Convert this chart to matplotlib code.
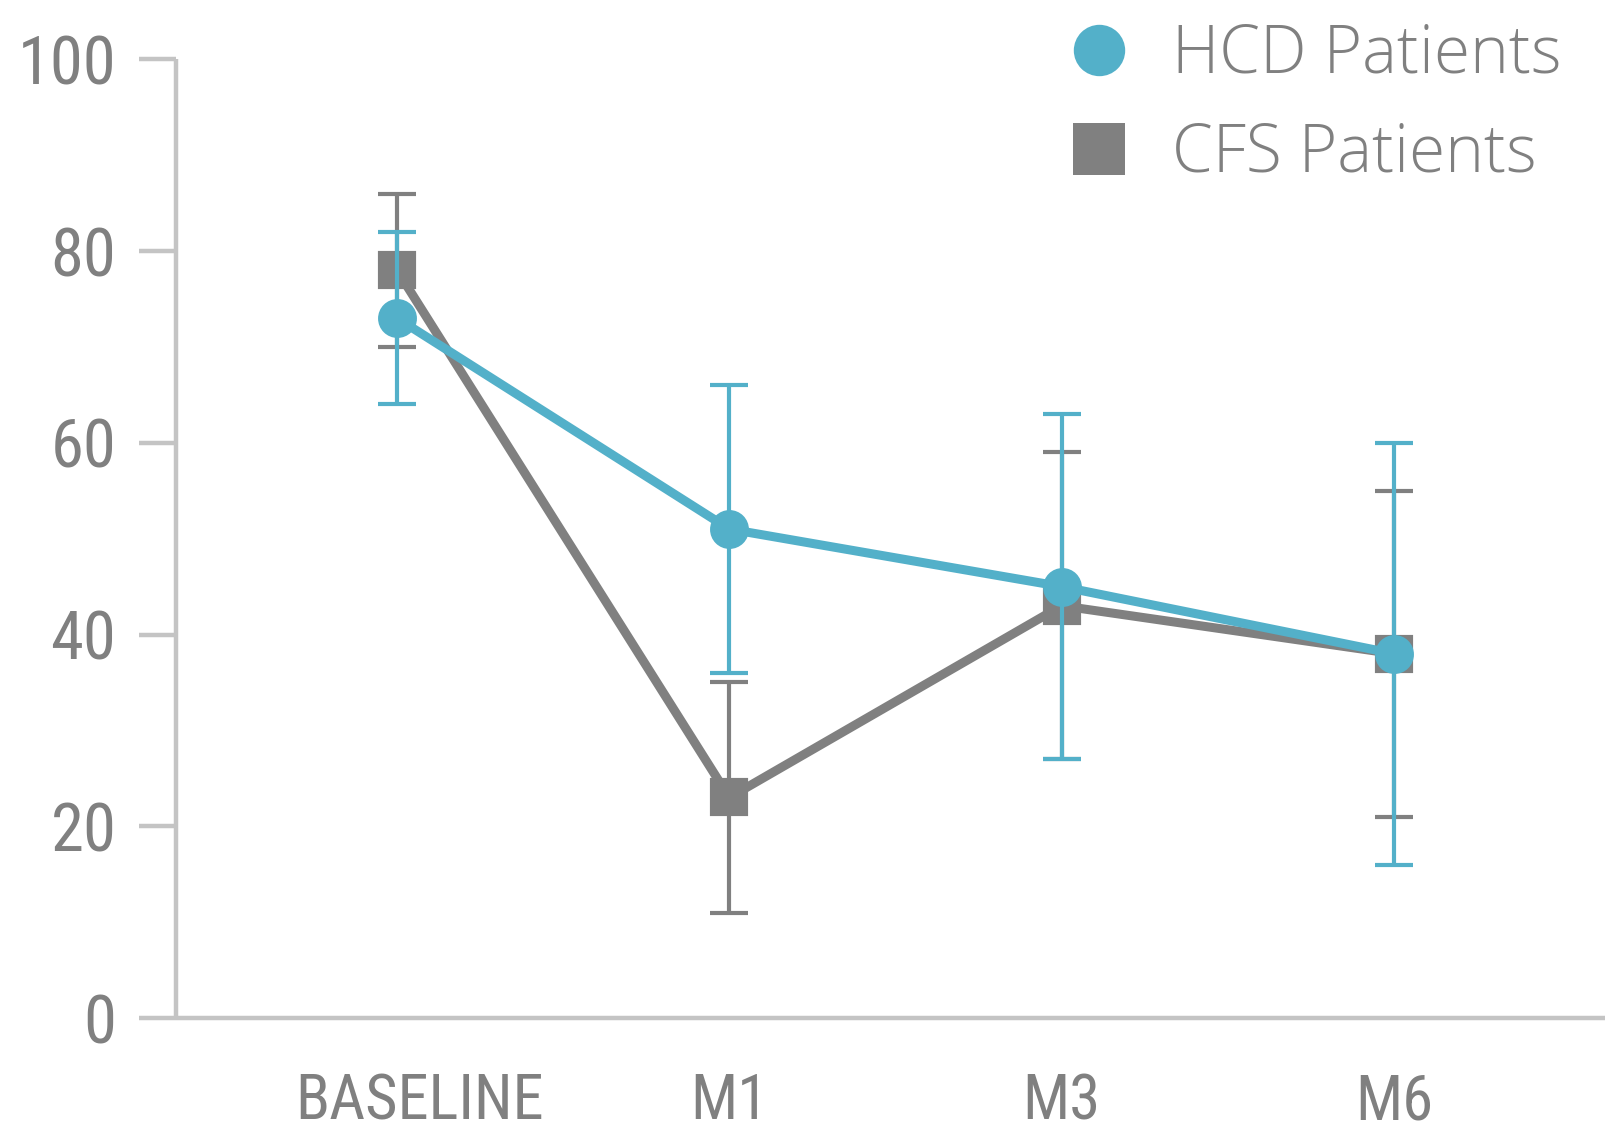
import matplotlib
matplotlib.use("Agg")
import matplotlib.pyplot as plt
from matplotlib.lines import Line2D
from matplotlib import font_manager
from matplotlib.transforms import ScaledTranslation

# Time points and group means with error half-widths
timepoints = ["BASELINE", "M1", "M3", "M6"]
hcd_mean = [73, 51, 45, 38]
hcd_err = [9, 15, 18, 22]
cfs_mean = [78, 23, 43, 38]
cfs_err = [8, 12, 16, 17]
series_labels = ["HCD Patients", "CFS Patients"]
y_ticks = [0, 20, 40, 60, 80, 100]

BLUE = "#53b0c9"
GRAY = "#808080"
AXIS = "#c4c4c4"
TEXT = "#808080"

available = {f.name for f in font_manager.fontManager.ttflist}


def pick(*names):
    for n in names:
        if n in available:
            return n
    return "DejaVu Sans"


tick_font = pick("Liberation Sans Narrow", "DejaVu Sans Condensed", "Roboto Condensed", "Lato")
legend_font = pick("Open Sans", "Lato", "DejaVu Sans")

W, H = 1605, 1127
fig = plt.figure(figsize=(W / 100, H / 100), dpi=100)
ax = fig.add_axes([176 / W, 109 / H, (W - 176) / W, (1018 - 59.3) / H])

x = list(range(len(timepoints)))

# marker edge width doubles as the cap thickness
ax.errorbar(x, cfs_mean, yerr=cfs_err, color=GRAY, lw=6.5, marker="s", ms=25,
            mec=GRAY, mew=3, ecolor=GRAY, elinewidth=3, capsize=13.7,
            capthick=3, zorder=2)
ax.errorbar(x, hcd_mean, yerr=hcd_err, color=BLUE, lw=6.5, marker="o", ms=25,
            mec=BLUE, mew=3, ecolor=BLUE, elinewidth=3, capsize=13.7,
            capthick=3, zorder=3)

ax.set_xlim(-0.665, 3.635)
ax.set_ylim(0, 100)
ax.set_xticks(x)
ax.set_xticklabels(timepoints)
ax.set_yticks(y_ticks)
ax.set_yticklabels([str(v) for v in y_ticks])

for side in ("top", "right"):
    ax.spines[side].set_visible(False)
for side in ("left", "bottom"):
    ax.spines[side].set_color(AXIS)
    ax.spines[side].set_linewidth(3.2)
    ax.spines[side].set_capstyle("butt")

ax.tick_params(axis="y", direction="out", length=27, width=3.2, color=AXIS,
               pad=16, labelcolor=TEXT, labelsize=48)
ax.tick_params(axis="x", length=0, pad=39, labelcolor=TEXT, labelsize=45)
for lab in ax.get_yticklabels() + ax.get_xticklabels():
    lab.set_fontfamily(tick_font)

# the long first category label sits a little right of its tick
first = ax.get_xticklabels()[0]
first.set_transform(first.get_transform() + ScaledTranslation(0.23, 0, fig.dpi_scale_trans))

handles = [
    Line2D([], [], ls="none", marker="o", ms=37, mew=0, color=BLUE),
    Line2D([], [], ls="none", marker="s", ms=37, mew=0, color=GRAY),
]
leg = ax.legend(handles, series_labels, loc="upper left",
                bbox_to_anchor=(1073 / W, 1 - 22 / H), bbox_transform=fig.transFigure,
                frameon=False, borderpad=0, borderaxespad=0,
                handlelength=0.78, handletextpad=0.72, labelspacing=0.5,
                prop={"family": legend_font, "weight": "light", "size": 47.3})
for t in leg.get_texts():
    t.set_color(TEXT)

fig.savefig("out.png", dpi=100)
